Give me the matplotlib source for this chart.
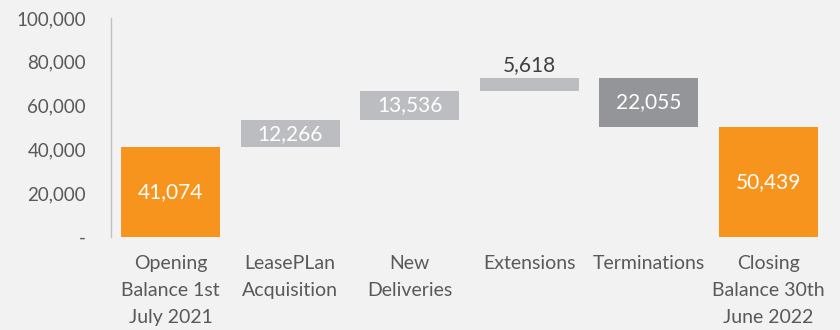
import numpy as np
import matplotlib.pyplot as plt

# waterfall data
categories = ["Opening\nBalance 1st\nJuly 2021", "LeasePLan\nAcquisition", "New\nDeliveries",
              "Extensions", "Terminations", "Closing\nBalance 30th\nJune 2022"]
changes = [41074, 12266, 13536, 5618, -22055]
closing = 50439
labels = ["41,074", "12,266", "13,536", "5,618", "22,055", "50,439"]

orange = '#F7941E'
light = '#BCBDC0'
dark = '#939598'
bg = '#F2F2F2'
txt = '#595959'

plt.rcParams['font.family'] = ['Lato', 'DejaVu Sans']

# compute bottoms / heights
bottoms = []
heights = []
running = 0
for i, c in enumerate(changes):
    if i == 0:
        bottoms.append(0)
        heights.append(c)
    elif c >= 0:
        bottoms.append(running)
        heights.append(c)
    else:
        bottoms.append(running + c)
        heights.append(-c)
    running += c
bottoms.append(0)
heights.append(closing)
colors = [orange, light, light, light, dark, orange]

fig = plt.figure(figsize=(8.4, 3.3), dpi=100, facecolor=bg)
ax = fig.add_axes([111 / 840, 1 - 237 / 330, 717 / 840, 219 / 330])
ax.set_facecolor(bg)

x = np.arange(len(categories))
ax.bar(x, heights, bottom=bottoms, width=0.83, color=colors)

for i in range(len(x)):
    if labels[i] == "5,618":
        ax.text(x[i], bottoms[i] + heights[i] + 1500, labels[i], ha='center', va='bottom',
                color='#404040', fontsize=15)
    else:
        ax.text(x[i], bottoms[i] + heights[i] / 2, labels[i], ha='center', va='center',
                color='white', fontsize=15)

ax.set_xlim(-0.5, len(categories) - 0.5)
ax.set_ylim(0, 100000)
yt = np.arange(0, 100001, 20000)
ax.set_yticks(yt)
ax.set_yticklabels(['-'] + [f"{v:,}" for v in yt[1:]])
ax.set_xticks(x)
ax.set_xticklabels(categories, linespacing=1.7)

ax.tick_params(axis='y', length=0, pad=18, labelsize=13.5, labelcolor=txt)
ax.tick_params(axis='x', length=0, pad=13, labelsize=14, labelcolor=txt)

for s in ['top', 'right', 'bottom']:
    ax.spines[s].set_visible(False)
ax.spines['left'].set_color('#BFBFBF')
ax.spines['left'].set_linewidth(1)

fig.savefig('out.png', dpi=100, facecolor=bg)
